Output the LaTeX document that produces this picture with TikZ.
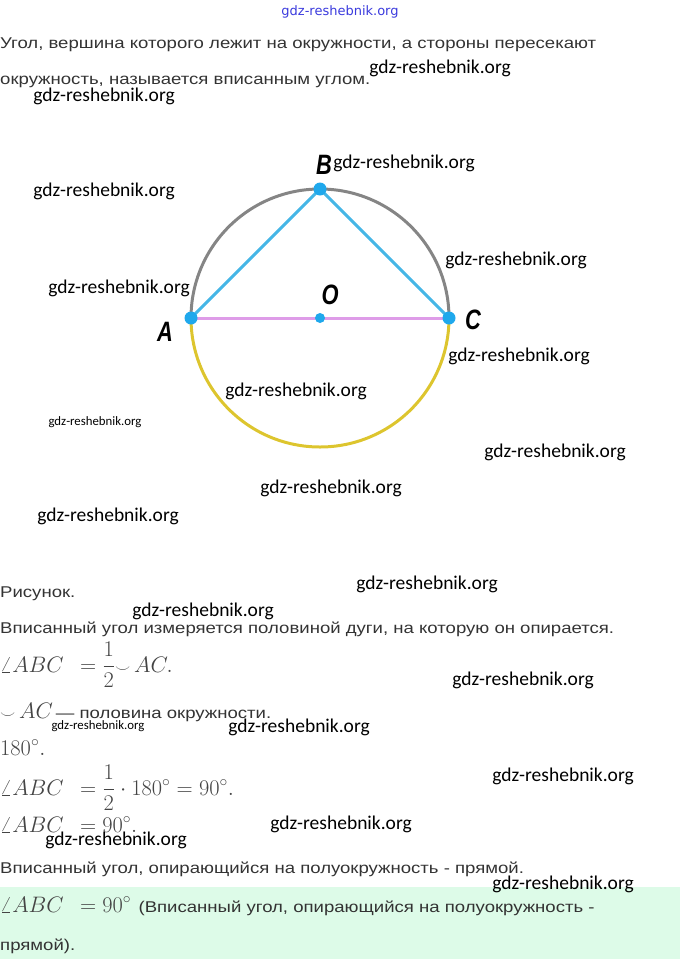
\documentclass[tikz,border=0pt]{standalone}
\usepackage{graphicx}
\usepackage[no-math]{fontspec}
\setmainfont{Liberation Sans}[FakeStretch=1.19]
\newfontfamily\wmfont{Carlito}
\newfontfamily\topfont{DejaVu Sans}
\newfontfamily\lblfont{Liberation Sans}[FakeStretch=0.78]

\definecolor{textgray}{HTML}{333333}
\definecolor{mathgray}{HTML}{444444}
\definecolor{ptblue}{HTML}{1FA8EC}
\definecolor{segblue}{HTML}{45B6E6}
\definecolor{arcgray}{HTML}{858585}
\definecolor{arcyellow}{HTML}{DDC52E}
\definecolor{diampink}{HTML}{DE9CE8}
\definecolor{notegreen}{HTML}{DDFBE8}
\definecolor{wmblue}{HTML}{3A3ADD}

\tikzset{
  txt/.style={anchor=base west, inner sep=0pt, text=textgray, font=\fontsize{15.6}{18}\selectfont},
  mth/.style={anchor=base west, inner sep=0pt, text=mathgray, font=\fontsize{20.74}{24}\selectfont},
  wm/.style={inner sep=0pt, font=\wmfont\fontsize{19.5}{22}\selectfont},
  wmsmall/.style={inner sep=0pt, font=\wmfont\fontsize{12.8}{15}\selectfont},
  pt/.style={circle, fill=ptblue, inner sep=0pt, minimum size=13pt},
  lbl/.style={inner sep=0pt, font=\lblfont\bfseries\itshape\fontsize{28}{30}\selectfont}
}
\newcommand{\half}{{\displaystyle\frac{1}{2}}}
\newcommand{\bigmath}[1]{\scalebox{1.08}{$#1$}}

\begin{document}
\begin{tikzpicture}[x=1pt, y=-1pt, line cap=round]
    \useasboundingbox (0,0) rectangle (680,959);
    \fill[notegreen] (0,887) rectangle (680,959);

    % circle: upper arc gray, lower arc yellow
    \draw[arcgray, line width=3pt]   (191,318) arc[start angle=180, end angle=360, radius=129];
    \draw[arcyellow, line width=3pt] (191,318) arc[start angle=180, end angle=0,   radius=129];

    \coordinate (A) at (191,318);
    \coordinate (B) at (320,189);
    \coordinate (C) at (449,318);
    \coordinate (O) at (320,318);

    \draw[diampink, line width=3pt] (A) -- (C);
    \draw[segblue, line width=3pt]  (A) -- (B) -- (C);
    \node[pt] (dotA) at (A) {};
    \node[pt] (dotB) at (B) {};
    \node[pt] (dotC) at (C) {};
    \node[pt, minimum size=10pt] (dotO) at (O) {};

    \node[lbl] (labA) at (165,332) {A};
    \node[lbl] (labB) at (324,165) {B};
    \node[lbl] (labC) at (473,320) {C};
    \node[lbl] (labO) at (330,295) {O};

    % text of the page
    \node[txt] (t1)  at (0,48)  {Угол, вершина которого лежит на окружности, а стороны пересекают};
    \node[txt] (t2)  at (0,84)  {окружность, называется вписанным углом.};
    \node[txt] (t3)  at (0,597) {Рисунок.};
    \node[txt] (t4)  at (0,633) {Вписанный угол измеряется половиной дуги, на которую он опирается.};
    \node[mth] (m1)  at (0,672) {\bigmath{\angle ABC\;\,=\half{\scriptstyle\smile}\,AC.}};
    \node[mth] (m2)  at (0,718) {\bigmath{{\scriptstyle\smile}\,AC}};
    \node[txt] (t5)  at (m2.base east) {\,— половина окружности.};
    \node[mth] (m3)  at (0,755) {\bigmath{180^\circ.}};
    \node[mth] (m4)  at (0,795) {\bigmath{\angle ABC\;\,=\half\cdot180^\circ=90^\circ.}};
    \node[mth] (m5)  at (0,832) {\bigmath{\angle ABC\;\,=90^\circ.}};
    \node[txt] (t6)  at (0,873) {Вписанный угол, опирающийся на полуокружность - прямой.};
    \node[mth] (m6)  at (0,912) {\bigmath{\angle ABC\;\,=90^\circ}};
    \node[txt] (t7)  at (m6.base east) {\hspace{7pt}(Вписанный угол, опирающийся на полуокружность -};
    \node[txt] (t8)  at (0,950) {прямой).};

    % watermarks
    \node[inner sep=0pt, text=wmblue, font=\topfont\fontsize{13}{15}\selectfont] (wm0) at (340,12) {gdz-reshebnik.org};
    \node[wm] (wm1)  at (440,68)  {gdz-reshebnik.org};
    \node[wm] (wm2)  at (104,96)  {gdz-reshebnik.org};
    \node[wm] (wm3)  at (404,163) {gdz-reshebnik.org};
    \node[wm] (wm4)  at (104,191) {gdz-reshebnik.org};
    \node[wm] (wm5)  at (516,260) {gdz-reshebnik.org};
    \node[wm] (wm6)  at (119,288) {gdz-reshebnik.org};
    \node[wm] (wm7)  at (519,356) {gdz-reshebnik.org};
    \node[wm] (wm8)  at (296,391) {gdz-reshebnik.org};
    \node[wmsmall] (wm9) at (95,422) {gdz-reshebnik.org};
    \node[wm] (wm10) at (555,452) {gdz-reshebnik.org};
    \node[wm] (wm11) at (331,488) {gdz-reshebnik.org};
    \node[wm] (wm12) at (108,516) {gdz-reshebnik.org};
    \node[wm] (wm13) at (427,584) {gdz-reshebnik.org};
    \node[wm] (wm14) at (203,611) {gdz-reshebnik.org};
    \node[wm] (wm15) at (523,680) {gdz-reshebnik.org};
    \node[wmsmall] (wm16) at (98,726) {gdz-reshebnik.org};
    \node[wm] (wm17) at (299,727) {gdz-reshebnik.org};
    \node[wm] (wm18) at (563,776) {gdz-reshebnik.org};
    \node[wm] (wm19) at (341,824) {gdz-reshebnik.org};
    \node[wm] (wm20) at (116,840) {gdz-reshebnik.org};
    \node[wm] (wm21) at (563,884) {gdz-reshebnik.org};
  \end{tikzpicture}
\end{document}
